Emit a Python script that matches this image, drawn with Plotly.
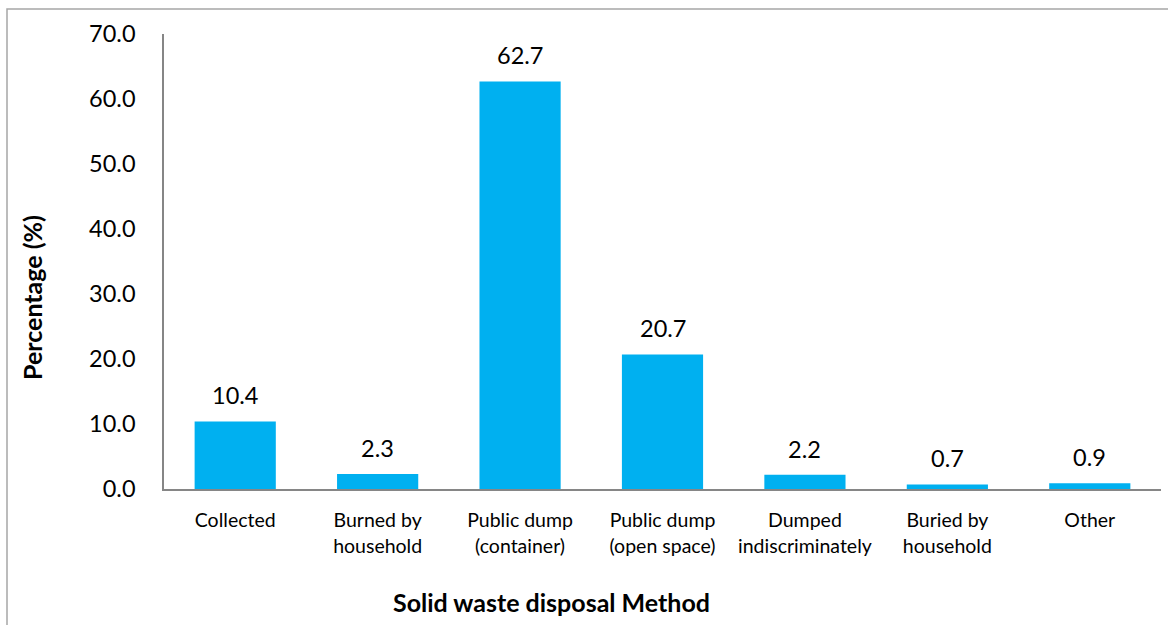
import plotly.graph_objects as go

categories = ["Collected", "Burned by<br>household", "Public dump<br>(container)",
              "Public dump<br>(open space)", "Dumped<br>indiscriminately",
              "Buried by<br>household", "Other"]
values = [10.4, 2.3, 62.7, 20.7, 2.2, 0.7, 0.9]
y_ticks = [0, 10, 20, 30, 40, 50, 60, 70]

W, H = 1168, 625
L, R, T, B = 164, 7, 34, 136
pw, ph = W - L - R, H - T - B

def px_x(px):
    return (px - L) / pw

def px_y(py):
    return (H - B - py) / ph

FONT = "Lato, Open Sans, sans-serif"

fig = go.Figure(go.Bar(
    x=categories, y=values,
    marker=dict(color="#00B0F0", line=dict(width=0)),
    width=0.57,
    hoverinfo="x+y",
))

annotations = [
    dict(text="<b>Solid waste disposal Method</b>", xref="paper", yref="paper",
         x=px_x(551), y=px_y(602), xanchor="center", yanchor="middle",
         showarrow=False, font=dict(size=25, family=FONT)),
    dict(text="<b>Percentage (%)</b>", xref="paper", yref="paper",
         x=px_x(32), y=px_y(298), xanchor="center", yanchor="middle",
         showarrow=False, textangle=-90, font=dict(size=25, family=FONT)),
]
for c, v in zip(categories, values):
    annotations.append(dict(x=c, y=v, xref="x", yref="y", text=f"{v:.1f}",
                            showarrow=False, xanchor="center", yanchor="bottom",
                            yshift=10,
                            font=dict(size=23.5, color="#000000", family=FONT)))

fig.update_layout(
    width=W, height=H,
    margin=dict(l=L, r=R, t=T, b=B),
    paper_bgcolor="white", plot_bgcolor="white",
    showlegend=False,
    font=dict(family=FONT, color="#000000"),
    xaxis=dict(showline=True, linecolor="#868686", linewidth=1.5,
               ticks="", tickfont=dict(size=19.5, family=FONT),
               showgrid=False, ticklabelstandoff=13),
    yaxis=dict(range=[0, 70], tickvals=y_ticks, tickformat=".1f",
               showline=True, linecolor="#868686", linewidth=1.5,
               ticks="", tickfont=dict(size=23.5, family=FONT),
               showgrid=False, zeroline=False, ticklabelstandoff=22),
    shapes=[dict(type="rect", xref="paper", yref="paper",
                 x0=px_x(7), x1=px_x(1175), y0=px_y(640), y1=px_y(9),
                 line=dict(color="#A6A6A6", width=1.5), layer="below")],
    annotations=annotations,
)

fig.write_html("out.html", config={"displayModeBar": False},
               post_script="document.body.style.margin='0';")
